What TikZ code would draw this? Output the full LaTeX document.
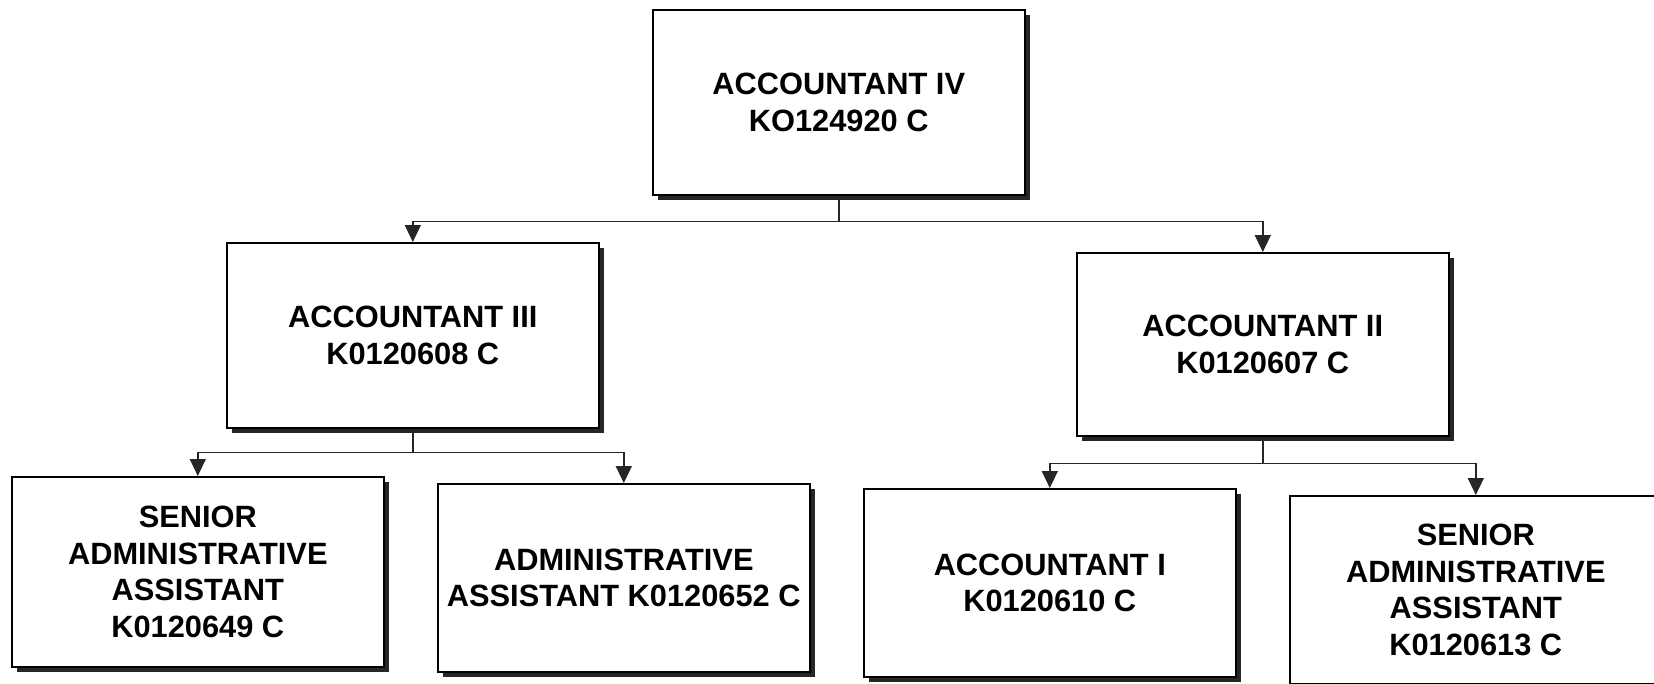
\documentclass[tikz,border=0pt]{standalone}
\usepackage{fontspec}
\setmainfont{Liberation Sans}
\usetikzlibrary{shadows,arrows.meta}
\begin{document}
\begin{tikzpicture}[x=1pt,y=-1pt,
  box/.style={draw=black, line width=1.6pt, fill=white, minimum width=372pt,
    minimum height=185pt, align=center, inner sep=0pt,
    font=\fontsize{30.8}{36.5}\selectfont\bfseries,
    general shadow={fill=black!85, shadow xshift=5pt, shadow yshift=-5pt},
    anchor=north west},
  conn/.style={line width=1.4pt, draw=black!85},
  arr/.style={conn, -{Triangle[length=17pt,width=16pt]}}
]
\useasboundingbox[fill=white] (0,0) rectangle (1654,683);

\node[box] (top) at (652,9) {ACCOUNTANT IV\\KO124920 C};
\node[box] (acc3) at (226,242) {ACCOUNTANT III\\K0120608 C};
\node[box, minimum height=183pt] (acc2) at (1076,252) {ACCOUNTANT II\\K0120607 C};
\node[box, minimum height=190pt] (sa1) at (11,476) {SENIOR\\ADMINISTRATIVE\\ASSISTANT\\K0120649 C};
\node[box, minimum height=188pt] (aa) at (437,483) {ADMINISTRATIVE\\ASSISTANT K0120652 C};
\node[box, minimum height=188pt] (acc1) at (863,488) {ACCOUNTANT I\\K0120610 C};
\node[box, minimum height=188pt] (sa2) at (1289,495) {SENIOR\\ADMINISTRATIVE\\ASSISTANT\\K0120613 C};

\draw[conn] (top.south) -- ++(0,26) coordinate (j1);
\draw[arr] (j1) -| (acc3.north);
\draw[arr] (j1) -| (acc2.north);

\draw[conn] (acc3.south) -- ++(0,24) coordinate (j2);
\draw[arr] (j2) -| (sa1.north);
\draw[arr] (j2) -| (aa.north);

\draw[conn] (acc2.south) -- ++(0,27) coordinate (j3);
\draw[arr] (j3) -| (acc1.north);
\draw[arr] (j3) -| (sa2.north);
\end{tikzpicture}
\end{document}
